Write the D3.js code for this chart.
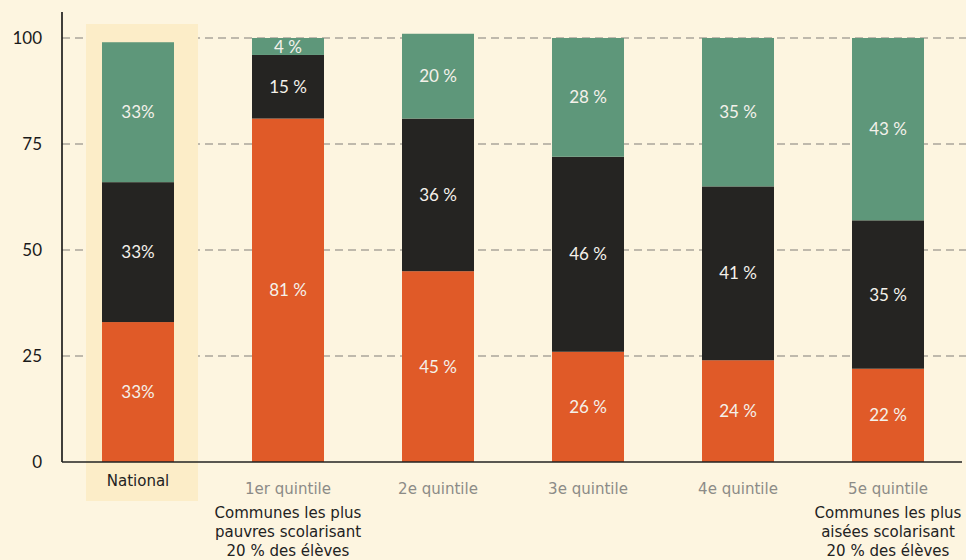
<!DOCTYPE html>
<html>
<head>
<meta charset="utf-8">
<script src="https://cdn.jsdelivr.net/npm/d3@7"></script>
<style>
  html, body { margin: 0; padding: 0; background: #fdf5e0; }
  svg { display: block; }
</style>
</head>
<body>
<svg id="chart" width="966" height="560"></svg>
<script>
// Répartition des élèves par catégorie, selon le quintile de revenu des communes
const categories = ["National", "1er quintile", "2e quintile", "3e quintile", "4e quintile", "5e quintile"];
const bottomSeries = [33, 81, 45, 26, 24, 22];   // orange
const middleSeries = [33, 15, 36, 46, 41, 35];   // noir
const topSeries    = [33, 4, 20, 28, 35, 43];    // vert
const valueLabels = [
  ["33%", "81 %", "45 %", "26 %", "24 %", "22 %"],
  ["33%", "15 %", "36 %", "46 %", "41 %", "35 %"],
  ["33%", "4 %", "20 %", "28 %", "35 %", "43 %"]
];
const subtitles = {
  "1er quintile": ["Communes les plus", "pauvres scolarisant", "20 % des élèves"],
  "5e quintile": ["Communes les plus", "aisées scolarisant", "20 % des élèves"]
};
const yTicks = [0, 25, 50, 75, 100];

const colors = ["#e05a28", "#252422", "#5e977a"];
const svg = d3.select("#chart");
const W = 966;

const x = d3.scaleBand().domain(categories).range([63, 963]).paddingInner(0.52).paddingOuter(0.26);
const y = d3.scaleLinear().domain([0, 100]).range([462, 38]);

// grille
svg.append("g").selectAll("line").data(yTicks.filter(d => d > 0)).join("line")
  .attr("x1", 62).attr("x2", W)
  .attr("y1", d => y(d)).attr("y2", d => y(d))
  .attr("stroke", "#aaa59a").attr("stroke-width", 1.3).attr("stroke-dasharray", "8,5");

// mise en avant de la barre nationale
const bw = x.bandwidth();
svg.append("rect")
  .attr("x", x("National") - 16).attr("width", bw + 40)
  .attr("y", 24).attr("height", 477)
  .attr("fill", "#fcedc8");

// barres empilées
const rows = categories.map((c, i) => ({ cat: c, s0: bottomSeries[i], s1: middleSeries[i], s2: topSeries[i] }));
const stack = d3.stack().keys(["s0", "s1", "s2"])(rows);

stack.forEach((layer, li) => {
  const g = svg.append("g");
  g.selectAll("rect").data(layer).join("rect")
    .attr("x", d => x(d.data.cat))
    .attr("width", bw)
    .attr("y", d => y(d[1]))
    .attr("height", d => y(d[0]) - y(d[1]))
    .attr("fill", colors[li]);
  g.selectAll("text").data(layer).join("text")
    .attr("x", d => x(d.data.cat) + bw / 2)
    .attr("y", d => (y(d[0]) + y(d[1])) / 2)
    .attr("dy", "0.36em")
    .attr("text-anchor", "middle")
    .attr("font-family", "Lato, sans-serif")
    .attr("font-size", 17)
    .attr("fill", "#f4f1ea")
    .text((d, i) => valueLabels[li][i]);
});

// axe Y
const yAxis = svg.append("g");
yAxis.append("line").attr("x1", 62).attr("x2", 62).attr("y1", 12).attr("y2", 462)
  .attr("stroke", "#111").attr("stroke-width", 1.6);
yAxis.selectAll("text").data(yTicks).join("text")
  .attr("x", 42).attr("y", d => y(d)).attr("dy", "0.36em")
  .attr("text-anchor", "end")
  .attr("font-family", "Lato, sans-serif").attr("font-size", 17)
  .attr("fill", "#1a1a1a")
  .text(d => d);

// axe X
svg.append("line").attr("x1", 62).attr("x2", 962).attr("y1", 462).attr("y2", 462)
  .attr("stroke", "#222").attr("stroke-width", 1.6);

const catFont = "'Liberation Sans Narrow', 'DejaVu Sans Condensed', 'Roboto Condensed', sans-serif";
svg.append("g").selectAll("text").data(categories).join("text")
  .attr("x", d => x(d) + bw / 2)
  .attr("y", d => d === "National" ? 480 : 488)
  .attr("dy", "0.36em")
  .attr("text-anchor", "middle")
  .attr("font-family", catFont).attr("font-size", 16.7)
  .attr("fill", d => d === "National" ? "#222" : "#8c8b87")
  .text(d => d);

Object.entries(subtitles).forEach(([cat, lines]) => {
  svg.append("text")
    .attr("x", x(cat) + bw / 2)
    .attr("text-anchor", "middle")
    .attr("font-family", catFont).attr("font-size", 16.7)
    .attr("fill", "#222")
    .selectAll("tspan").data(lines).join("tspan")
      .attr("x", x(cat) + bw / 2)
      .attr("y", (d, i) => 512 + i * 19)
      .attr("dy", "0.36em")
      .text(d => d);
});
</script>
</body>
</html>
